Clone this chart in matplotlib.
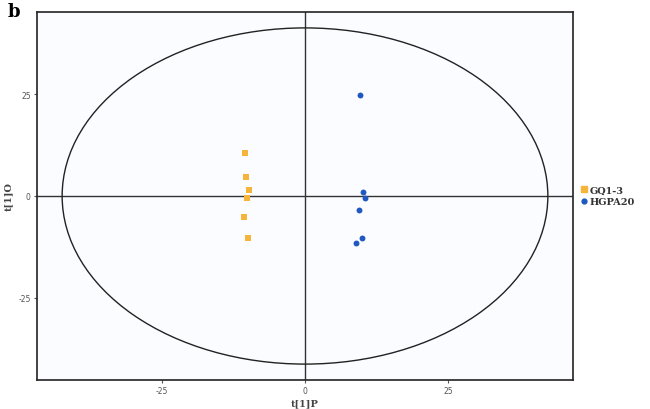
import matplotlib
matplotlib.use("Agg")
import matplotlib.pyplot as plt
from matplotlib.patches import Ellipse
from matplotlib.lines import Line2D

groups = ["GQ1-3", "HGPA20"]
gq_x = [-10.5, -10.4, -9.8, -10.1, -10.7, -10.0]
gq_y = [10.5, 4.6, 1.4, -0.6, -5.2, -10.4]
hg_x = [9.6, 10.1, 10.5, 9.5, 9.9, 9.0]
hg_y = [24.8, 1.1, -0.6, -3.4, -10.2, -11.4]
ticks = [-25, 0, 25]
tick_labels = ["-25", "0", "25"]
ellipse_w = 85.0
ellipse_h = 82.4

orange = "#f7b43a"
blue = "#1f59c0"

fig = plt.figure(figsize=(6.5, 4.1), dpi=100)
fig.patch.set_facecolor("white")
ax = fig.add_axes([37/650, 1 - 381/410, (573-37)/650, (381-13)/410])
ax.set_facecolor("#fbfcff")
ax.set_xlim(-46.9, 46.9)
ax.set_ylim(-45.1, 45.1)

ax.axhline(0, color="#333333", lw=1.0, zorder=1)
ax.axvline(0, color="#333333", lw=1.0, zorder=1)
ax.add_patch(Ellipse((0, 0), ellipse_w, ellipse_h, fill=False, ec="#222222", lw=1.0, zorder=2))

ax.scatter(gq_x, gq_y, marker="s", s=22, color=orange, zorder=3, linewidths=0)
ax.scatter(hg_x, hg_y, marker="o", s=18, color=blue, zorder=3, linewidths=0)

ax.set_xticks(ticks)
ax.set_xticklabels(tick_labels)
ax.set_yticks(ticks)
ax.set_yticklabels(tick_labels)
ax.tick_params(axis="both", labelsize=5.5, colors="#555555", length=2.5, width=0.8, pad=2)
for s in ax.spines.values():
    s.set_color("#222222")
    s.set_linewidth(1.2)

ax.set_xlabel("t[1]P", fontsize=7, family="DejaVu Serif", fontweight="bold", color="#444444", labelpad=2)
ax.set_ylabel("t[1]O", fontsize=7, family="DejaVu Serif", fontweight="bold", color="#444444", labelpad=4)

fig.text(8/650, 1 - 12/410, "b", fontsize=13, fontweight="bold", family="DejaVu Serif", va="center", ha="left")

handles = [
    Line2D([], [], marker="s", ls="", color=orange, markersize=4),
    Line2D([], [], marker="o", ls="", color=blue, markersize=3.5),
]
fig.legend(handles, groups, loc="center left", bbox_to_anchor=(577/650, 1 - 197/410),
           frameon=False, prop={"family": "DejaVu Serif", "weight": "bold", "size": 7},
           handlelength=0.6, handletextpad=0.3, labelspacing=0.3, borderaxespad=0)
for t in fig.legends[0].get_texts():
    t.set_color("#333333")

fig.savefig("out.png", dpi=100)
